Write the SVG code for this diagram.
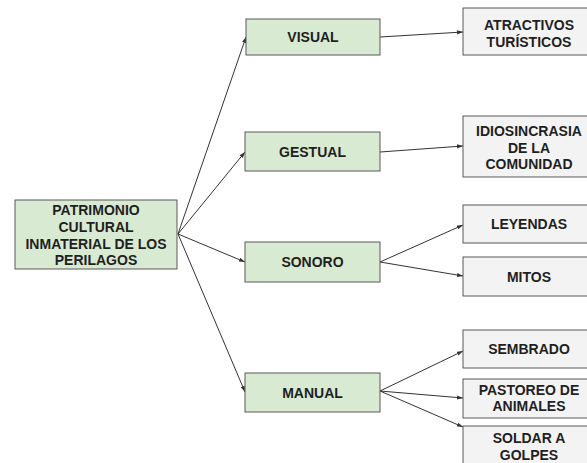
<svg xmlns="http://www.w3.org/2000/svg" width="587" height="463" viewBox="0 0 587 463">
<style>
.g{fill:#d9ead3;stroke:#595959;stroke-width:1}
.y{fill:#f3f3f3;stroke:#595959;stroke-width:1}
text{font-family:"Liberation Sans",Arial,sans-serif;font-weight:bold;font-size:14px;fill:#1f1f1f;text-anchor:middle}
.c line{stroke:#333;stroke-width:1;marker-end:url(#a)}
</style>
<defs>
<marker id="a" viewBox="0 0 10 10" refX="10" refY="5" markerWidth="6" markerHeight="6" markerUnits="userSpaceOnUse" orient="auto">
<path d="M0,1.5 L10,5 L0,8.5 Z" fill="#333"/>
</marker>
</defs>
<rect width="587" height="463" fill="#fff"/>
<g class="c" id="connectors">
<line x1="178" y1="234" x2="246" y2="37"/>
<line x1="178" y1="234" x2="245" y2="152"/>
<line x1="178" y1="234" x2="245" y2="262"/>
<line x1="178" y1="234" x2="245" y2="392"/>
<line x1="380" y1="37" x2="463" y2="32"/>
<line x1="380" y1="152" x2="463" y2="146"/>
<line x1="380" y1="262" x2="463" y2="225"/>
<line x1="380" y1="262" x2="463" y2="276"/>
<line x1="380" y1="391" x2="463" y2="351"/>
<line x1="380" y1="391" x2="463" y2="398"/>
<line x1="380" y1="391" x2="463" y2="427"/>
</g>
<g id="root">
<rect class="g" x="15" y="200" width="162" height="69"/>
<text x="96" y="215">PATRIMONIO</text>
<text x="96" y="232">CULTURAL</text>
<text x="96" y="249">INMATERIAL DE LOS</text>
<text x="96" y="265">PERILAGOS</text>
</g>
<g id="visual">
<rect class="g" x="246" y="19" width="134" height="36"/>
<text x="313" y="42">VISUAL</text>
</g>
<g id="gestual">
<rect class="g" x="245" y="132" width="135" height="39"/>
<text x="312.5" y="157">GESTUAL</text>
</g>
<g id="sonoro">
<rect class="g" x="245" y="242" width="135" height="40"/>
<text x="312.5" y="267">SONORO</text>
</g>
<g id="manual">
<rect class="g" x="245" y="373" width="135" height="39"/>
<text x="312.5" y="397.5">MANUAL</text>
</g>
<g id="atractivos">
<rect class="y" x="463" y="8" width="133" height="47"/>
<text x="529" y="30">ATRACTIVOS</text>
<text x="529" y="46.7">TURÍSTICOS</text>
</g>
<g id="idiosincrasia">
<rect class="y" x="463" y="116" width="133" height="61"/>
<text x="529" y="136">IDIOSINCRASIA</text>
<text x="529" y="152.5">DE LA</text>
<text x="529" y="169">COMUNIDAD</text>
</g>
<g id="leyendas">
<rect class="y" x="463" y="205" width="133" height="38"/>
<text x="529" y="229">LEYENDAS</text>
</g>
<g id="mitos">
<rect class="y" x="463" y="257" width="133" height="39"/>
<text x="529" y="281.5">MITOS</text>
</g>
<g id="sembrado">
<rect class="y" x="463" y="330" width="133" height="38"/>
<text x="529" y="354">SEMBRADO</text>
</g>
<g id="pastoreo">
<rect class="y" x="463" y="379" width="133" height="39"/>
<text x="529" y="395">PASTOREO DE</text>
<text x="529" y="411">ANIMALES</text>
</g>
<g id="soldar">
<rect class="y" x="463" y="426" width="133" height="45"/>
<text x="529" y="443">SOLDAR A</text>
<text x="529" y="460">GOLPES</text>
</g>
</svg>
